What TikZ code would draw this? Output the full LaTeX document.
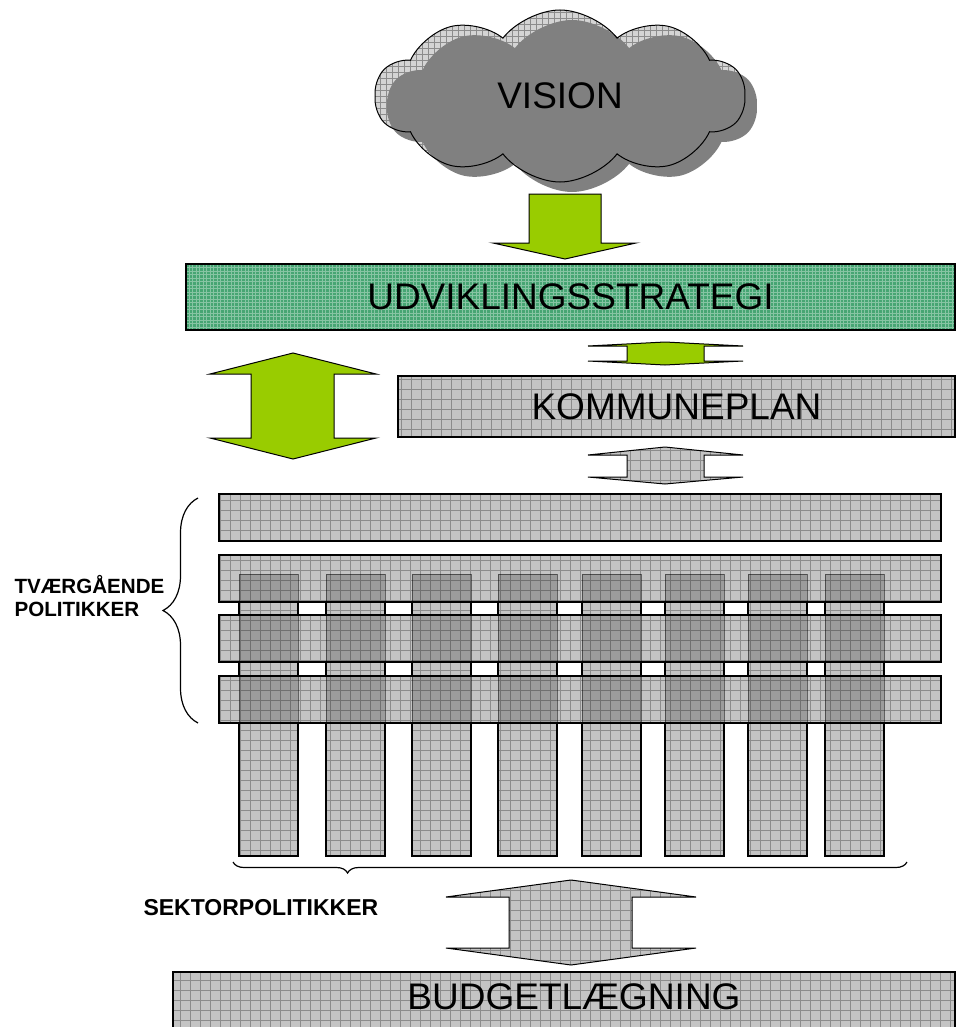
\documentclass[tikz,border=0pt]{standalone}
\usepackage{fontspec}
\setmainfont{Liberation Sans}
\usetikzlibrary{shapes.symbols, decorations.pathreplacing}
\definecolor{mygreen}{RGB}{153, 204, 0}
\definecolor{boxgreen}{RGB}{70, 165, 115}
\definecolor{mygray1}{RGB}{196, 196, 196}
\definecolor{mygray2}{RGB}{140, 140, 140}
\definecolor{mygray3}{RGB}{212, 212, 212}
\definecolor{mygray4}{RGB}{128, 128, 128}

\begin{document}
\begin{tikzpicture}[
    x = 1pt, y = -1pt,
    bigtext/.style = {font = \fontsize{37}{40}\selectfont},
    gbox/.style = {draw, line width = 1.2pt, fill = mygray1, path picture = {\draw[mygray2, line width = 0.5pt] (path picture bounding box.south west) grid[step = 10pt] (path picture bounding box.north east);}},
    greenbox/.style = {draw, line width = 1.2pt, fill = boxgreen, path picture = {\draw[white, opacity = 0.35, line width = 0.5pt] (path picture bounding box.south west) grid[step = 3.5pt] (path picture bounding box.north east);}},
    garrow/.style = {draw, line width = 1pt, fill = mygreen},
    cloudy/.style = {cloud, cloud puffs = 10, cloud puff arc = 105, cloud ignores aspect, minimum width = 370pt, minimum height = 172pt, inner sep = 0pt},
    brc/.style = {decorate, line width = 1.2pt, decoration = {brace, amplitude = #1}}
]
\useasboundingbox (0,0) rectangle (968,1027);

% vision
\node[cloudy, fill = mygray3, path picture = {\draw[mygray2, line width = 0.5pt] (path picture bounding box.south west) grid[step = 6pt] (path picture bounding box.north east);}] at (560,96) {};
\node[cloudy, fill = mygray4] at (572,106) {};
\node[cloudy, draw, line width = 1pt, bigtext] (vision) at (560,96) {VISION};

\draw[garrow] (529,194) -- (601,194) -- (601,243) -- (636,243) -- (565,259) -- (493,243) -- (529,243) -- cycle;

\node[greenbox, minimum width = 769pt, minimum height = 66pt, inner sep = 0pt, bigtext] (udvikling) at (570.5,297) {UDVIKLINGSSTRATEGI};

\draw[garrow] (293,353) -- (376,374) -- (334,374) -- (334,438) -- (376,438) -- (293,459) -- (210,438) -- (251,438) -- (251,374) -- (210,374) -- cycle;
\draw[garrow] (665,342) -- (743,346) -- (704,346) -- (704,361) -- (743,361) -- (665,365) -- (588,361) -- (627,361) -- (627,346) -- (588,346) -- cycle;

\node[gbox, minimum width = 557pt, minimum height = 61pt, inner sep = 0pt, bigtext] (kommuneplan) at (676.5,406.5) {KOMMUNEPLAN};

\draw[gbox, line width = 1pt] (665,447) -- (743,455) -- (704,455) -- (704,477) -- (743,477) -- (665,484) -- (588,477) -- (627,477) -- (627,455) -- (588,455) -- cycle;

% sektorpolitikker and tvaergaaende politikker
\foreach \x in {239, 326, 412, 498, 582, 665, 748, 825}
    \draw[gbox] (\x,574) rectangle ({\x+59},856);
\foreach \y in {494, 555, 615, 676}
    \draw[gbox] (219,\y) rectangle (941,{\y+47});
\foreach \x in {239, 326, 412, 498, 582, 665, 748, 825}
    \foreach \t/\b in {574/602, 615/662, 676/723}
        \filldraw[black, fill opacity = 0.2, draw opacity = 0.5, line width = 1pt] (\x,\t) rectangle ({\x+59},\b);

\draw[brc = 35pt] (198,723) -- (198,498);
\node[font = \fontsize{20.6}{23.5}\selectfont\bfseries, align = left, anchor = west] (tvaer) at (11,596) {TVÆRGÅENDE\\POLITIKKER};

\draw[brc = 11pt, decoration = {aspect = 0.83}] (907,862) -- (233,862);
\node[font = \fontsize{23}{26}\selectfont\bfseries, anchor = west] (sektor) at (140,908) {SEKTORPOLITIKKER};

\draw[gbox, line width = 1pt] (571,880) -- (696,897) -- (632,897) -- (632,948) -- (696,948) -- (571,965) -- (446,948) -- (509,948) -- (509,897) -- (446,897) -- cycle;

% budget
\draw[gbox] (173,972) rectangle (955,1040);
\node[bigtext] (budget) at (574,997) {BUDGETLÆGNING};

\end{tikzpicture}
\end{document}
